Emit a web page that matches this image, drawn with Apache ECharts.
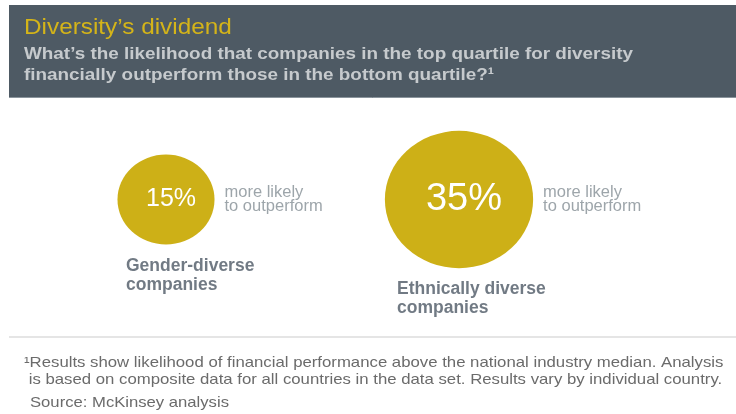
<!DOCTYPE html>
<html>
<head>
<meta charset="utf-8">
<style>
  html, body { margin: 0; padding: 0; background: #ffffff; }
  #chart { width: 736px; height: 414px; }
</style>
<script src="https://cdn.jsdelivr.net/npm/echarts@6/dist/echarts.min.js"></script>
</head>
<body>
<div id="chart"></div>
<script>
// Groups compared and how much more likely the top-diversity quartile is to outperform (%)
const categories = ['Gender-diverse\ncompanies', 'Ethnically diverse\ncompanies'];
const likelihood = [15, 35];
const sideNote = 'more likely\nto outperform';

const titleText = 'Diversity\u2019s dividend';
const subtitleLines = [
  'What\u2019s the likelihood that companies in the top quartile for diversity',
  'financially outperform those in the bottom quartile?\u00b9'
];
const footnoteLines = [
  '\u00b9Results show likelihood of financial performance above the national industry median. Analysis',
  ' is based on composite data for all countries in the data set. Results vary by individual country.'
];
const sourceText = 'Source: McKinsey analysis';

const FONT = '"Liberation Sans", Arial, Helvetica, sans-serif';
const GOLD = '#cdb017';
const SLATE = '#4e5a64';

// bubble area is proportional to the value
const SIZE_K = 23.2;
const STRETCH = 1.08;
const diameter = v => SIZE_K * Math.sqrt(v);
const bubbleSize = val => { const d = diameter(val[2]); return [d * STRETCH, d]; };

// horizontal shift of each group name relative to its bubble centre
const nameShift = [-40, -62];

// a left-anchored text line, slightly widened like the rest of the layout
function textLine(x, y, text, font, fill, widen) {
  return {
    type: 'text', x: x, y: y, scaleX: widen, silent: true,
    style: { text: text, x: 0, y: 0, font: font, fill: fill, verticalAlign: 'top', align: 'left' }
  };
}

const chart = echarts.init(document.getElementById('chart'), null, { renderer: 'canvas' });

const points = likelihood.map((v, i) => [i, 0, v]);

chart.setOption({
  backgroundColor: '#ffffff',
  animation: false,
  grid: { left: 19.5, width: 586, top: 120, height: 159 },
  xAxis: { type: 'category', data: categories, boundaryGap: true, show: false },
  yAxis: { type: 'value', min: -1, max: 1, show: false },
  graphic: [
    { type: 'rect', x: 9, y: 5, shape: { width: 740, height: 93 }, style: { fill: SLATE }, silent: true },
    { type: 'line', shape: { x1: 9, y1: 97.5, x2: 736, y2: 97.5 }, style: { stroke: '#8a949c', lineWidth: 1 }, silent: true },
    textLine(24, 17, titleText, `22px ${FONT}`, '#d4b419', 1.106),
    textLine(24, 46, subtitleLines[0], `bold 17px ${FONT}`, '#c6cacd', 1.111),
    textLine(24, 67, subtitleLines[1], `bold 17px ${FONT}`, '#c6cacd', 1.111),
    { type: 'line', shape: { x1: 9, y1: 337, x2: 736, y2: 337 }, style: { stroke: '#dcdcdc', lineWidth: 1.5 }, silent: true },
    textLine(24, 355, footnoteLines[0], `15px ${FONT}`, '#6b6b6b', 1.117),
    textLine(24, 372.5, footnoteLines[1], `15px ${FONT}`, '#6b6b6b', 1.117),
    textLine(30, 395, sourceText, `15px ${FONT}`, '#6b6b6b', 1.11)
  ],
  series: [
    {
      // the bubbles, with their value printed inside
      type: 'scatter',
      data: points.map(p => ({
        value: p,
        label: { fontSize: Math.round(diameter(p[2]) * 0.28) }
      })),
      symbol: 'circle',
      symbolSize: bubbleSize,
      itemStyle: { color: GOLD, opacity: 1 },
      label: {
        show: true,
        position: 'inside',
        formatter: p => p.value[2] + '%',
        color: '#ffffff',
        fontFamily: FONT,
        offset: [5, 0]
      },
      silent: true,
      z: 2
    },
    {
      // side note to the right of each bubble
      type: 'scatter',
      data: points,
      symbolSize: bubbleSize,
      itemStyle: { color: 'rgba(0,0,0,0)' },
      label: {
        show: true,
        position: 'right',
        distance: 10,
        formatter: () => sideNote,
        color: '#858e95',
        fontFamily: FONT,
        fontSize: 16.5,
        lineHeight: 14.5,
        align: 'left'
      },
      silent: true,
      z: 3
    },
    {
      // group name under each bubble
      type: 'scatter',
      data: points.map((p, i) => ({
        value: p,
        label: { offset: [nameShift[i], 0] }
      })),
      symbolSize: bubbleSize,
      itemStyle: { color: 'rgba(0,0,0,0)' },
      label: {
        show: true,
        position: 'bottom',
        distance: 12,
        formatter: p => categories[p.dataIndex],
        color: '#4d5965',
        fontFamily: FONT,
        fontWeight: 'bold',
        fontSize: 17.5,
        lineHeight: 19,
        align: 'left'
      },
      silent: true,
      z: 3
    }
  ]
});
</script>
</body>
</html>
